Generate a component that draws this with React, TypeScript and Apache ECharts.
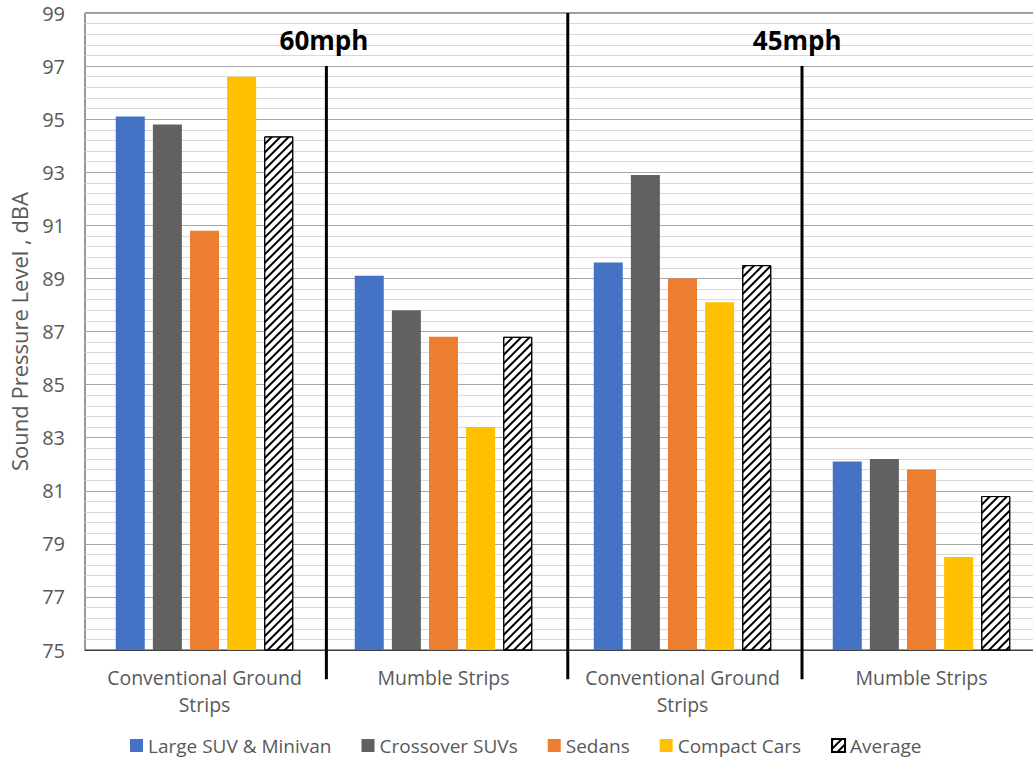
import React, { useEffect, useRef } from "react";
import * as echarts from "echarts";

const categories = ["Conventional Ground\nStrips", "Mumble Strips", "Conventional Ground\nStrips", "Mumble Strips"];
const seriesNames = ["Large SUV & Minivan", "Crossover SUVs", "Sedans", "Compact Cars", "Average"];
const largeSuv = [95.1, 89.1, 89.6, 82.1];
const crossover = [94.8, 87.8, 92.9, 82.2];
const sedans = [90.8, 86.8, 89.0, 81.8];
const compact = [96.6, 83.4, 88.1, 78.5];
const average = [94.35, 86.8, 89.5, 80.8];
const colors = ["#4472C4", "#616161", "#ED7D31", "#FFC000", "#FFFFFF"];

// separators (position on a 0..4 category scale, top value, bottom value)
const sepX = [1.01, 2.02, 3.0];
const sepTop = [97, 99, 97];
const sepBottom = [73.9, 73.9, 73.9];
// speed headings
const speedLabels = ["60mph", "45mph"];
const speedX = [1.0, 2.98];
const speedY = [98.0, 98.0];

const FONT = "'Open Sans', sans-serif";

export default function App() {
  const ref = useRef<HTMLDivElement>(null);
  useEffect(() => {
    const chart = echarts.init(ref.current!, undefined, { renderer: "svg" });
    const values = [largeSuv, crossover, sedans, compact, average];
    const barSeries = values.map((vals, i) => {
      const isAvg = i === 4;
      return {
        name: seriesNames[i],
        type: "bar",
        xAxisIndex: 0,
        yAxisIndex: 0,
        barWidth: 29,
        barGap: "28%",
        data: vals,
        itemStyle: isAvg
          ? {
              color: "#ffffff",
              borderColor: "#000000",
              borderWidth: 1,
              decal: {
                symbol: "rect",
                symbolSize: 1,
                color: "#000000",
                backgroundColor: "#ffffff",
                dashArrayX: [1, 0],
                dashArrayY: [2, 4],
                rotation: -Math.PI / 4,
              },
            }
          : { color: colors[i] },
      };
    });
    chart.setOption({
      animation: false,
      backgroundColor: "#ffffff",
      textStyle: { fontFamily: FONT },
      grid: {
        left: 85,
        right: -8,
        top: 13,
        bottom: 110,
        outerBoundsMode: "none",
        containLabel: false,
        show: true,
        borderColor: "#333333",
        borderWidth: 1,
      },
      legend: {
        data: seriesNames,
        left: 125,
        top: 731,
        itemWidth: 13,
        itemHeight: 13,
        itemGap: 30,
        icon: "rect",
        textStyle: { fontSize: 19, color: "#595959", fontFamily: FONT },
      },
      xAxis: [
        {
          type: "category",
          data: categories,
          axisTick: { show: false },
          axisLine: { lineStyle: { color: "#404040" } },
          axisLabel: {
            interval: 0,
            color: "#595959",
            fontSize: 19.5,
            lineHeight: 27,
            margin: 14,
            fontFamily: FONT,
          },
        },
        { type: "value", min: 0, max: 4, show: false },
      ],
      yAxis: {
        type: "value",
        min: 75,
        max: 99,
        interval: 2,
        name: "Sound Pressure Level , dBA",
        nameLocation: "middle",
        nameGap: 55,
        nameRotate: 90,
        nameTextStyle: { color: "#595959", fontSize: 22, fontFamily: FONT },
        axisLine: { show: false },
        axisTick: { show: false },
        axisLabel: { color: "#595959", fontSize: 20, margin: 20, fontFamily: FONT },
        splitLine: { lineStyle: { color: "#a6a6a6", width: 1 } },
        minorTick: { show: false, splitNumber: 5 },
        minorSplitLine: { show: true, lineStyle: { color: "#d9d9d9", width: 1 } },
      },
      series: [
        ...barSeries,
        {
          type: "custom",
          xAxisIndex: 1,
          yAxisIndex: 0,
          silent: true,
          clip: false,
          z: 5,
          data: sepX.map((x, i) => [x, sepTop[i], sepBottom[i]]),
          renderItem: (params: any, api: any) => {
            const p1 = api.coord([api.value(0), api.value(1)]);
            const p2 = api.coord([api.value(0), api.value(2)]);
            return {
              type: "line",
              shape: { x1: p1[0], y1: p1[1], x2: p2[0], y2: p2[1] },
              style: { stroke: "#000000", lineWidth: 3 },
            };
          },
        },
        {
          type: "custom",
          xAxisIndex: 1,
          yAxisIndex: 0,
          silent: true,
          clip: false,
          z: 6,
          data: speedX.map((x, i) => [x, speedY[i]]),
          renderItem: (params: any, api: any) => {
            const p = api.coord([api.value(0), api.value(1)]);
            return {
              type: "text",
              x: p[0],
              y: p[1],
              style: {
                text: speedLabels[params.dataIndex],
                fontSize: 26,
                fontWeight: "bold",
                fontFamily: FONT,
                fill: "#000000",
                align: "center",
                verticalAlign: "middle",
              },
            };
          },
        },
      ],
    });
    return () => chart.dispose();
  }, []);
  return (
    <div
      ref={ref}
      style={{ position: "fixed", left: 0, top: 0, width: 1033, height: 760, background: "#fff" }}
    />
  );
}
